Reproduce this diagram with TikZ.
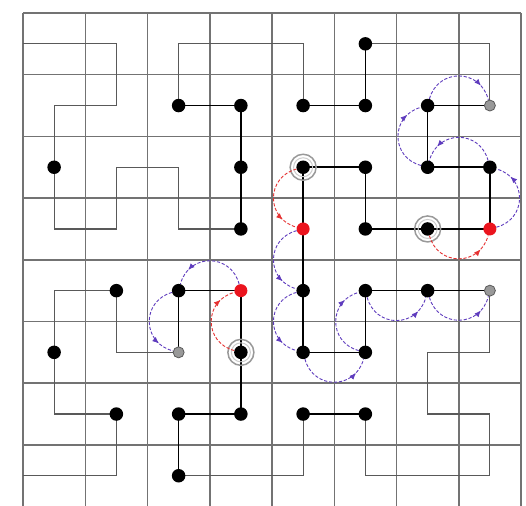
\documentclass[tikz,border=0pt]{standalone}
\usetikzlibrary{arrows.meta,decorations.markings}
\definecolor{flowpurple}{RGB}{95,60,190}
\definecolor{flowred}{RGB}{230,50,50}
\definecolor{dotred}{RGB}{235,20,30}
\begin{document}
\begin{tikzpicture}[x=62.25pt,y=61.7pt,
  gridline/.style={draw=black!55,line width=1.5pt},
  curveline/.style={draw=black!65,line width=1.2pt},
  edgeline/.style={draw=black,line width=1.5pt},
  dotb/.style={circle,fill=black,inner sep=0pt,minimum size=13.5pt},
  dotr/.style={circle,fill=dotred,inner sep=0pt,minimum size=13pt},
  dotg/.style={circle,fill=black!40,draw=black!65,line width=0.8pt,inner sep=0pt,minimum size=11pt},
  ringline/.style={draw=black!40,line width=1.5pt},
  ringin/.style={draw=black!20,line width=1pt},
  flowbase/.style={line width=0.9pt,dash pattern=on 3.2pt off 1.8pt,postaction={decorate},
    decoration={markings,mark=at position 0.8 with {\arrow{Latex[length=6.5pt,width=5.5pt]}}}},
  flowp/.style={flowbase,color=flowpurple},
  flowr/.style={flowbase,color=flowred},
  arcr/.style={bend right=75,looseness=1.4},
  arcl/.style={bend left=75,looseness=1.4}
]
\fill[white] (-23pt,1.6pt) rectangle (503pt,506.6pt);
\useasboundingbox (-23pt,1.6pt) rectangle (503pt,506.6pt);
% cell centres
\foreach \i in {1,...,8}{\foreach \j in {1,...,8}{\coordinate (c\i\j) at (\i-0.5,8.5-\j);}}
\coordinate (s) at (0,7.5);
\coordinate (e) at (0,0.5);
% grid
\foreach \k in {0,...,8}{
  \draw[gridline] (\k,0) -- (\k,8);
  \draw[gridline] (0,\k) -- (8,\k);
}
% Hilbert curve
\draw[curveline] (s) -- (c11) -- (c21) -- (c22) -- (c12) -- (c13) -- (c14) -- (c24) -- (c23) -- (c33) -- (c34) -- (c44) -- (c43) -- (c42) -- (c32) -- (c31) -- (c41)
 -- (c51) -- (c52) -- (c62) -- (c61) -- (c71) -- (c81) -- (c82) -- (c72) -- (c73) -- (c83) -- (c84) -- (c74) -- (c64) -- (c63) -- (c53) -- (c54)
 -- (c55) -- (c56) -- (c66) -- (c65) -- (c75) -- (c85) -- (c86) -- (c76) -- (c77) -- (c87) -- (c88) -- (c78) -- (c68) -- (c67) -- (c57) -- (c58)
 -- (c48) -- (c38) -- (c37) -- (c47) -- (c46) -- (c45) -- (c35) -- (c36) -- (c26) -- (c25) -- (c15) -- (c16) -- (c17) -- (c27) -- (c28) -- (c18) -- (e);
% black edges between occupied cells
\draw[edgeline] (c44) -- (c43) -- (c42) -- (c32);
\draw[edgeline] (c52) -- (c62) -- (c61);
\draw[edgeline] (c82) -- (c72) -- (c73) -- (c83) -- (c84) -- (c74) -- (c64) -- (c63) -- (c53) -- (c54) -- (c55) -- (c56) -- (c66) -- (c65) -- (c75) -- (c85);
\draw[edgeline] (c67) -- (c57);
\draw[edgeline] (c38) -- (c37) -- (c47) -- (c46) -- (c45) -- (c35) -- (c36);
% rings
\foreach \c in {53,74,46}{\draw[ringline] (c\c) circle (13pt); \draw[ringin] (c\c) circle (9.5pt);}
% dots
\foreach \c in {32,42,52,62,61,72,13,43,53,63,73,83,44,64,74,25,35,55,65,75,16,46,56,66,27,37,47,57,67,38}{
  \node[dotb] (n\c) at (c\c) {};
}
\foreach \c in {54,84,45}{\node[dotr] (n\c) at (c\c) {};}
\foreach \c in {82,36,85}{\node[dotg] (n\c) at (c\c) {};}
% moves
\draw[flowr] (n74) to[arcr] (n84);
\draw[flowp] (n84) to[arcr] (n83);
\draw[flowp] (n83) to[arcr] (n73);
\draw[flowp] (n73) to[arcl] (n72);
\draw[flowp] (n72) to[arcl] (n82);
\draw[flowr] (n53) to[arcr] (n54);
\draw[flowp] (n54) to[arcr] (n55);
\draw[flowp] (n55) to[arcr] (n56);
\draw[flowp] (n56) to[arcr] (n66);
\draw[flowp] (n66) to[arcl] (n65);
\draw[flowp] (n65) to[arcr] (n75);
\draw[flowp] (n75) to[arcr] (n85);
\draw[flowr] (n46) to[arcl] (n45);
\draw[flowp] (n45) to[arcr] (n35);
\draw[flowp] (n35) to[arcr] (n36);
\end{tikzpicture}
\end{document}
